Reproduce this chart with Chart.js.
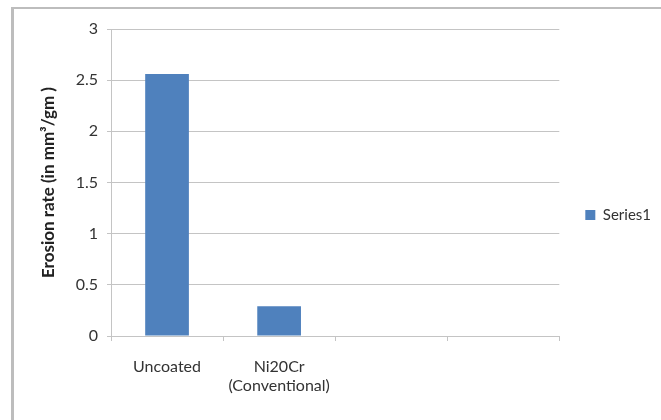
<!DOCTYPE html>
<html>
<head>
<meta charset="utf-8">
<script src="https://cdn.jsdelivr.net/npm/chart.js@4/dist/chart.umd.min.js"></script>
<style>
  html, body { margin: 0; padding: 0; background: #fff; }
  #wrap { width: 661px; height: 420px; }
</style>
</head>
<body>
<div id="wrap"><canvas id="chart" width="661" height="420"></canvas></div>
<script>
// Erosion rate per coating type
const categories = ['Uncoated', ['Ni20Cr', '(Conventional)'], '', ''];
const series1 = [2.56, 0.29, null, null];
const seriesName = 'Series1';
const yMin = 0;
const yMax = 3;
const yStep = 0.5;
const yTitle = 'Erosion rate (in mm\u00B3/gm )';

const FONT = 'Lato, "Open Sans", sans-serif';
const TEXT = '#333333';
const GRID = '#c4c4c4';

// Frame lines along the top and left edge of the chart panel
const framePlugin = {
  id: 'frame',
  beforeDraw(chart) {
    const ctx = chart.ctx;
    ctx.save();
    ctx.strokeStyle = '#bdbdbd';
    ctx.lineWidth = 2;
    ctx.beginPath();
    ctx.moveTo(12, 8);
    ctx.lineTo(chart.width, 8);
    ctx.stroke();
    ctx.lineWidth = 3;
    ctx.beginPath();
    ctx.moveTo(12.5, 7);
    ctx.lineTo(12.5, chart.height);
    ctx.stroke();
    ctx.restore();
  }
};

new Chart(document.getElementById('chart'), {
  type: 'bar',
  data: {
    labels: categories,
    datasets: [{
      label: seriesName,
      data: series1,
      backgroundColor: '#4f81bd',
      borderWidth: 0,
      categoryPercentage: 1,
      barPercentage: 0.39
    }]
  },
  plugins: [framePlugin],
  options: {
    responsive: false,
    animation: false,
    layout: { padding: { top: 29, left: 33, right: 0, bottom: 19 } },
    plugins: {
      tooltip: { enabled: false },
      legend: {
        position: 'right',
        labels: {
          boxWidth: 10,
          boxHeight: 10,
          padding: 4,
          color: TEXT,
          font: { family: FONT, size: 15 }
        }
      }
    },
    scales: {
      x: {
        grid: {
          display: true,
          offset: true,
          drawOnChartArea: false,
          drawTicks: true,
          tickLength: 5,
          color: GRID
        },
        border: { display: true, color: GRID, width: 1 },
        ticks: {
          color: TEXT,
          padding: 16,
          maxRotation: 0,
          autoSkip: false,
          font: { family: FONT, size: 16 }
        },
        afterFit(s) { s.height = 420 - 19 - 336; }
      },
      y: {
        min: yMin,
        max: yMax,
        ticks: {
          stepSize: yStep,
          color: TEXT,
          padding: 9,
          font: { family: FONT, size: 16 },
          callback: (v) => String(v)
        },
        grid: {
          color: GRID,
          tickLength: 4,
          drawTicks: true
        },
        border: { display: true, color: GRID, width: 1 },
        title: {
          display: true,
          text: yTitle,
          color: '#222222',
          padding: { top: 5, bottom: 0 },
          font: { family: FONT, size: 17, weight: 'bold' }
        },
        afterFit(s) { s.width = 111 - 33; }
      },
      spacer: {
        type: 'linear',
        position: 'right',
        display: true,
        grid: { display: false },
        border: { display: false },
        ticks: { display: false },
        afterFit(s) { s.width = 22; }
      }
    }
  }
});
</script>
</body>
</html>
